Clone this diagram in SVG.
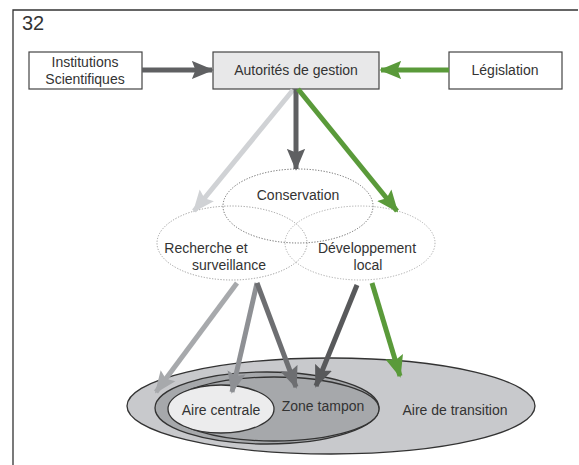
<svg xmlns="http://www.w3.org/2000/svg" width="579" height="465" viewBox="0 0 579 465">
<style>
text{font-family:"Liberation Sans",Arial,sans-serif;fill:#333;font-size:14px;text-anchor:middle}
.box{stroke:#444;stroke-width:1.2}
.dot{fill:none;stroke-dasharray:1.2 1.6;stroke-width:1}
.zone{stroke:#333;stroke-width:1.3}
</style>
<defs>
<marker id="hDark" viewBox="0 0 12 10" refX="11" refY="5" markerWidth="4.4" markerHeight="3.8" orient="auto" markerUnits="strokeWidth"><path d="M0,0 L12,5 L0,10 L2,5 z" fill="#5f6062"/></marker>
<marker id="hGreen" viewBox="0 0 12 10" refX="11" refY="5" markerWidth="4.4" markerHeight="3.8" orient="auto" markerUnits="strokeWidth"><path d="M0,0 L12,5 L0,10 L2,5 z" fill="#5a9a3a"/></marker>
<marker id="hLight" viewBox="0 0 12 10" refX="11" refY="5" markerWidth="4.4" markerHeight="3.8" orient="auto" markerUnits="strokeWidth"><path d="M0,0 L12,5 L0,10 L2,5 z" fill="#d0d2d5"/></marker>
<marker id="hG1" viewBox="0 0 12 10" refX="11" refY="5" markerWidth="4.4" markerHeight="3.8" orient="auto" markerUnits="strokeWidth"><path d="M0,0 L12,5 L0,10 L2,5 z" fill="#a7a9ac"/></marker>
<marker id="hG2" viewBox="0 0 12 10" refX="11" refY="5" markerWidth="4.4" markerHeight="3.8" orient="auto" markerUnits="strokeWidth"><path d="M0,0 L12,5 L0,10 L2,5 z" fill="#8e9094"/></marker>
<marker id="hG3" viewBox="0 0 12 10" refX="11" refY="5" markerWidth="4.4" markerHeight="3.8" orient="auto" markerUnits="strokeWidth"><path d="M0,0 L12,5 L0,10 L2,5 z" fill="#6d6e71"/></marker>
<marker id="hG4" viewBox="0 0 12 10" refX="11" refY="5" markerWidth="4.4" markerHeight="3.8" orient="auto" markerUnits="strokeWidth"><path d="M0,0 L12,5 L0,10 L2,5 z" fill="#58595b"/></marker>
</defs>
<rect width="579" height="465" fill="#fff"/>
<path d="M13,465 V10 H578" fill="none" stroke="#333" stroke-width="1.3"/>
<text x="22" y="30" style="font-size:20px;text-anchor:start">32</text>

<g id="zones">
<ellipse class="zone" cx="331" cy="406" rx="204" ry="48" fill="#c8c9cc"/>
<ellipse class="zone" cx="267" cy="408" rx="112" ry="36" fill="#a6a8ab"/>
<ellipse class="zone" cx="274" cy="409" rx="105" ry="32" fill="#a6a8ab"/>
<ellipse class="zone" cx="221" cy="409" rx="53" ry="24" fill="#ececed"/>
<text x="221" y="415">Aire centrale</text>
<text x="323" y="411">Zone tampon</text>
<text x="455" y="415">Aire de transition</text>
</g>

<g id="institutions"><rect class="box" x="29" y="52" width="113" height="37" fill="#fff"/><text x="85" y="67">Institutions</text><text x="85" y="83.5">Scientifiques</text></g>
<g id="autorites"><rect class="box" x="213" y="52" width="166" height="37" fill="#e8e8e9"/><text x="296" y="75">Autorités de gestion</text></g>
<g id="legislation"><rect class="box" x="449" y="52" width="113" height="37" fill="#fff"/><text x="505" y="75">Législation</text></g>

<g id="conservation"><ellipse class="dot" cx="298" cy="206" rx="75" ry="37" stroke="#666"/><text x="298" y="200">Conservation</text></g>
<g id="recherche"><ellipse class="dot" cx="232" cy="243" rx="75" ry="37" stroke="#999"/><text x="206" y="253">Recherche et</text><text x="229" y="269.5">surveillance</text></g>
<g id="developpement"><ellipse class="dot" cx="360" cy="243" rx="75" ry="37" stroke="#aaa"/><text x="367" y="253">Développement</text><text x="368" y="269.5">local</text></g>

<g id="connectors" fill="none" stroke-width="5">
<line x1="142" y1="70" x2="212" y2="70" stroke="#5f6062" marker-end="url(#hDark)"/>
<line x1="449" y1="70" x2="381" y2="70" stroke="#5a9a3a" marker-end="url(#hGreen)"/>
<line x1="293" y1="90" x2="194" y2="211" stroke="#d0d2d5" marker-end="url(#hLight)"/>
<line x1="296" y1="89" x2="296" y2="169" stroke="#5f6062" marker-end="url(#hDark)"/>
<line x1="298" y1="89" x2="397" y2="211" stroke="#5a9a3a" marker-end="url(#hGreen)"/>
<line x1="237" y1="283" x2="156" y2="392" stroke="#a7a9ac" marker-end="url(#hG1)"/>
<line x1="257" y1="283" x2="232" y2="392" stroke="#8e9094" marker-end="url(#hG2)"/>
<line x1="257" y1="283" x2="296" y2="387" stroke="#6d6e71" marker-end="url(#hG3)"/>
<line x1="357" y1="285" x2="316" y2="386" stroke="#58595b" marker-end="url(#hG4)"/>
<line x1="372" y1="283" x2="400" y2="376" stroke="#5a9a3a" marker-end="url(#hGreen)"/>
</g>
</svg>
